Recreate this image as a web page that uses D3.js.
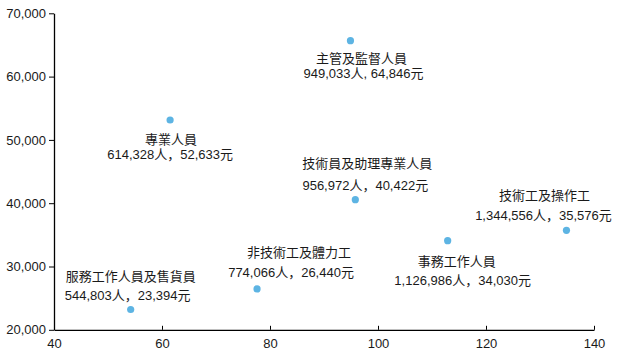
<!DOCTYPE html>
<html>
<head>
<meta charset="utf-8">
<script src="https://cdn.jsdelivr.net/npm/d3@7"></script>
<style>
  body { margin: 0; background: #fff; }
  text { font-family: "Liberation Sans", Arial, "Noto Sans CJK TC", sans-serif; fill: #1a1a1a; }
  .name { font-family: "Noto Sans CJK TC", sans-serif; font-size: 13px; }
  .val { font-family: "Liberation Sans", Arial, "Noto Sans CJK SC", sans-serif; font-size: 13px; }
</style>
</head>
<body>
<svg id="chart"></svg>
<script>
// occupation groups
const groups = ["主管及監督人員", "專業人員", "技術員及助理專業人員", "事務工作人員",
  "服務工作人員及售貨員", "技術工及操作工", "非技術工及體力工"];
// label text values
const people = ["949,033", "614,328", "956,972", "1,126,986", "544,803", "1,344,556", "774,066"];
const wages = ["64,846", "52,633", "40,422", "34,030", "23,394", "35,576", "26,440"];
// plotted positions (x: workers in 10k, y: monthly wage)
const xVals = [94.9, 61.5, 95.8, 112.9, 54.2, 134.9, 77.6];
const yVals = [65670, 53140, 40560, 34080, 23210, 35720, 26450];
const xTicks = [40, 60, 80, 100, 120, 140];
const yTicks = [20000, 30000, 40000, 50000, 60000, 70000];

// label offsets from each dot: [name dx, name dy, value dx, value dy]
const labelPos = [
  [11, 22, 13, 37],
  [1, 24, 0, 39],
  [12, -32, 10, -10],
  [9, 25, 15, 44],
  [0, -28, -3, -9],
  [-22, -30, -23, -10],
  [42, -32, 34, -12]
];

const svgWidth = 642, svgHeight = 353;
const margin = { top: 13.3, left: 54, right: 48, bottom: 23.2 };
const w = svgWidth - margin.left - margin.right;
const h = svgHeight - margin.top - margin.bottom;

const svg = d3.select("#chart").attr("width", svgWidth).attr("height", svgHeight);
const g = svg.append("g").attr("transform", `translate(${margin.left},${margin.top})`);

const x = d3.scaleLinear().domain([40, 140]).range([0, w]);
const y = d3.scaleLinear().domain([20000, 70000]).range([h, 0]);

// y axis
const yAxis = g.append("g")
  .call(d3.axisLeft(y).tickValues(yTicks).tickFormat(d3.format(",")).tickSize(5).tickSizeOuter(0).tickPadding(3));
yAxis.selectAll("text").attr("font-size", 13).attr("font-family", "'Liberation Sans', Arial, sans-serif").attr("fill", "#1a1a1a");
yAxis.select(".domain").attr("stroke", "#000").attr("stroke-width", 1.3);

// x axis (ticks point up)
const xAxis = g.append("g")
  .attr("transform", `translate(0,${h})`)
  .call(d3.axisBottom(x).tickValues(xTicks).tickSize(-4).tickSizeOuter(0).tickPadding(9));
xAxis.selectAll("text").attr("font-size", 13).attr("font-family", "'Liberation Sans', Arial, sans-serif").attr("fill", "#1a1a1a");
xAxis.select(".domain").attr("stroke", "#000").attr("stroke-width", 1.3);

// points
g.selectAll("circle.dot")
  .data(groups)
  .enter().append("circle")
  .attr("class", "dot")
  .attr("cx", (d, i) => x(xVals[i]))
  .attr("cy", (d, i) => y(yVals[i]))
  .attr("r", 3.6)
  .attr("fill", "#5db4e3");

// labels
groups.forEach((name, i) => {
  const cx = x(xVals[i]), cy = y(yVals[i]);
  const p = labelPos[i];
  g.append("text").attr("class", "name")
    .attr("x", cx + p[0]).attr("y", cy + p[1])
    .attr("text-anchor", "middle")
    .text(name);
  const sep = i === 0 ? ", " : "，";
  g.append("text").attr("class", "val")
    .attr("x", cx + p[2]).attr("y", cy + p[3])
    .attr("text-anchor", "middle")
    .text(`${people[i]}人${sep}${wages[i]}元`);
});
</script>
</body>
</html>
